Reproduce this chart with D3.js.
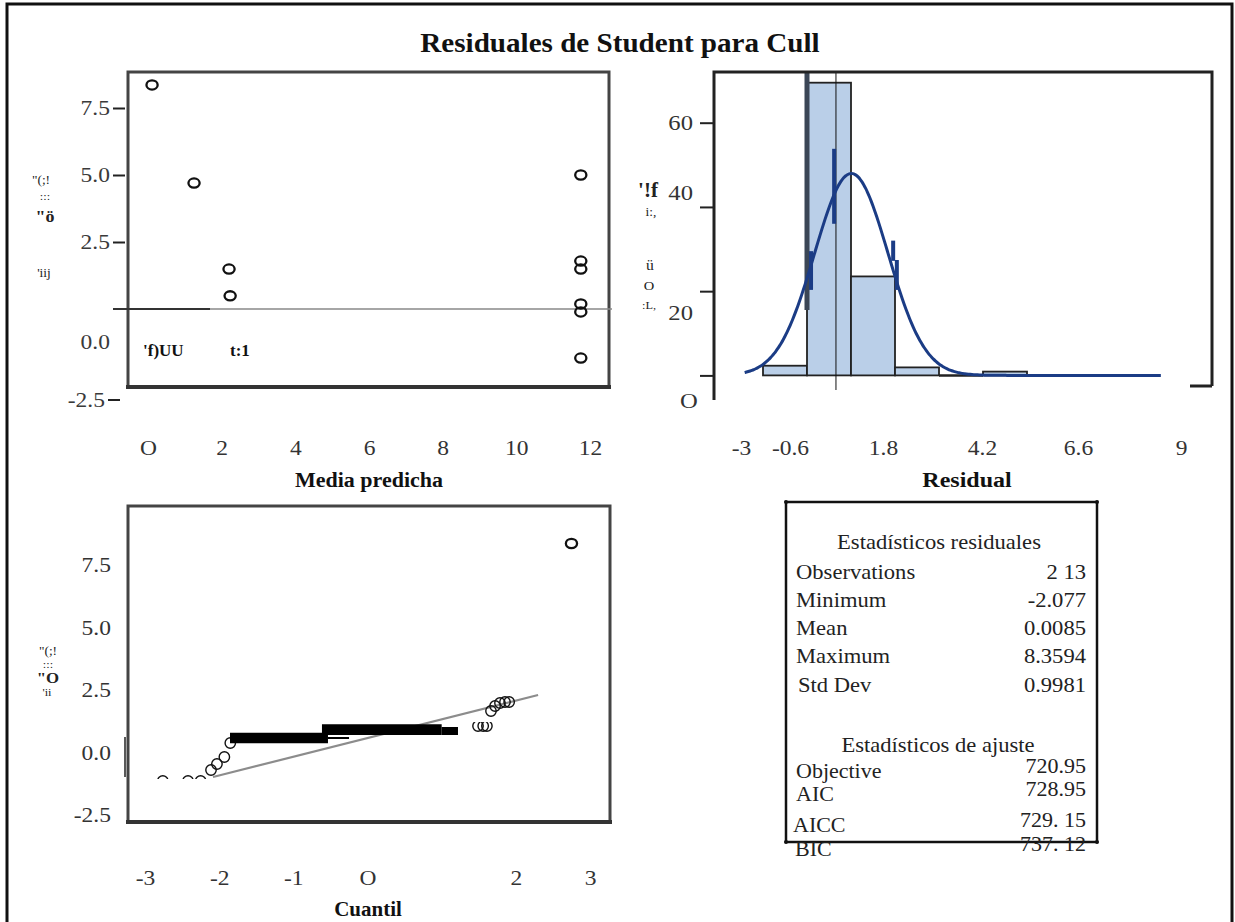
<!DOCTYPE html>
<html>
<head>
<meta charset="utf-8">
<script src="https://cdn.jsdelivr.net/npm/d3@7"></script>
<style>
  body { margin: 0; background: #fff; }
  svg text { font-family: "Liberation Serif", "Times New Roman", serif; }
</style>
</head>
<body>
<svg id="chart" width="1235" height="922"></svg>
<script>
// ---------------- data ----------------
const chartTitle = "Residuales de Student para Cull";

// Residuals vs predicted mean
const predMean  = [0.11, 1.25, 2.2, 2.23, 11.75, 11.75, 11.75, 11.75, 11.75, 11.75];
const predResid = [8.3594, 4.70, 1.49, 0.49, 5.0, 1.79, 1.49, 0.19, -0.11, -1.83];
const residTicks = [7.5, 5.0, 2.5, 0.0, -2.5];
const predTicks  = [0, 2, 4, 6, 8, 10, 12];

// Histogram of residuals (percent per bin)
const binEdges   = [-2.4, -1.2, 0, 1.2, 2.4, 3.6, 4.8, 6.0, 7.2, 8.4];
const binPercent = [2.3, 69.5, 23.5, 1.9, 0, 0.9, 0, 0, 0];
const histXTicks = [-3, -0.6, 1.8, 4.2, 6.6, 9];
const histYTicks = [60, 40, 20, 0];
const medianLine = -0.41;
// short stroke fragments drawn over the density curve: [x, y0, y1]
const curveStrokes = [[-0.46, 36.0, 53.8], [-1.09, 20.3, 29.5], [1.15, 27.2, 32.0], [1.25, 20.3, 27.4]];

// Q-Q plot
const qqQuant = [-2.76, -2.42, -2.25, -2.11, -2.03, -1.93, -1.85,
                 1.665, 1.72, 1.786, 1.854, 1.91];
const qqResid = [-1.14, -1.14, -1.14, -0.70, -0.46, -0.18, 0.38,
                 1.66, 1.86, 1.98, 2.02, 2.02];
const qqCutQuant = [1.49, 1.56, 1.61];
const qqCutResid = [1.06, 1.06, 1.06];
const qqOutlier = [2.75, 8.3594];
// dense runs of overlapping points: [q0, q1, v0, v1]
const qqRuns = [[-1.854, -0.533, 0.37, 0.79], [-0.533, -0.249, 0.54, 0.62],
                [-0.614, 1.0, 0.70, 1.13], [1.0, 1.22, 0.70, 1.02]];
const qqLineQ = [-2.083, 2.30];
const qqLineIntercept = 0.578, qqLineSlope = 0.748;
const qqXTicks = [-3, -2, -1, 0, 2, 3];

// Summary tables
const residStatNames  = ["Observations", "Minimum", "Mean", "Maximum", "Std Dev"];
const residStatValues = ["2 13", "-2.077", "0.0085", "8.3594", "0.9981"];
const fitStatNames  = ["Objective", "AIC", "AICC", "BIC"];
const fitStatValues = ["720.95", "728.95", "729. 15", "737. 12"];
const statMean = 0.0085, statSd = 0.9981;

// ---------------- drawing ----------------
const svg = d3.select("#chart");
const fmt = d => d === 0 ? "O" : String(d);
const fmt1 = d => d.toFixed(1);
const SX = 1.12;   // horizontal stretch applied to the serif labels

// text placed at (x, y) and stretched horizontally
function label(parent, x, y, str, o = {}) {
  const sx = o.sx || SX;
  return parent.append("text")
    .attr("transform", `translate(${x},${y}) scale(${sx},1)`)
    .attr("text-anchor", o.anchor || "start")
    .attr("font-size", o.size || 21)
    .attr("font-weight", o.bold ? "bold" : "normal")
    .attr("font-family", o.family || null)
    .attr("fill", o.fill || "#222")
    .text(str);
}

function styleAxis(g, size, color) {
  g.select(".domain").remove();
  g.selectAll("text").attr("font-size", size).attr("fill", color)
    .attr("font-family", "Liberation Serif, serif");
  g.selectAll("line").attr("stroke", "#222").attr("stroke-width", 2);
}
// stretch tick labels about their anchor
function stretchTicks(g) {
  g.selectAll(".tick text").each(function () {
    const t = d3.select(this);
    const x = +t.attr("x") || 0, y = +t.attr("y") || 0;
    t.attr("x", 0).attr("y", 0).attr("transform", `translate(${x},${y}) scale(${SX},1)`);
  });
}
// open "o" marker used for the scatter points
function ringMarks(sel) {
  return sel.attr("rx", 5.6).attr("ry", 4.6)
    .attr("fill", "none").attr("stroke", "#111").attr("stroke-width", 2.3);
}

// outer frame
svg.append("path").attr("d", "M7,922V4H1232V922")
  .attr("fill", "none").attr("stroke", "#111").attr("stroke-width", 3);

label(svg, 620, 52, chartTitle, {anchor: "middle", size: 28, bold: true, fill: "#111", sx: 1.04});

// ---- panel 1: residual vs predicted mean ----
const x1 = d3.scaleLinear().domain([0, 12]).range([148, 590]);
const y1 = d3.scaleLinear().domain([0, 7.5]).range([309, 108]);

const p1 = svg.append("g");
p1.append("path").attr("d", "M128,387V72H609V387").attr("fill", "none")
  .attr("stroke", "#444").attr("stroke-width", 3);
p1.append("line").attr("x1", 126).attr("x2", 611).attr("y1", 387).attr("y2", 387)
  .attr("stroke", "#333").attr("stroke-width", 4);
p1.append("line").attr("x1", 113).attr("x2", 210).attr("y1", y1(0)).attr("y2", y1(0))
  .attr("stroke", "#333").attr("stroke-width", 2);
p1.append("line").attr("x1", 210).attr("x2", 612).attr("y1", y1(0)).attr("y2", y1(0))
  .attr("stroke", "#888").attr("stroke-width", 1.5);

const ax1 = p1.append("g").attr("transform", "translate(125,0)")
  .call(d3.axisLeft(y1).tickValues(residTicks).tickSize(12).tickPadding(3).tickFormat(fmt1));
styleAxis(ax1, 21, "#3a3a3a");
ax1.selectAll(".tick").filter(d => d === 0).select("line").remove();
ax1.selectAll(".tick").filter(d => d === 0).select("text").attr("dy", "1.9em");
ax1.selectAll(".tick").filter(d => d === -2.5).attr("transform", `translate(-5,${y1(-2.5) + 24})`);
stretchTicks(ax1);

const bx1 = p1.append("g").attr("transform", "translate(0,440)")
  .call(d3.axisBottom(x1).tickValues(predTicks).tickSize(0).tickPadding(0).tickFormat(fmt));
styleAxis(bx1, 21, "#333");
stretchTicks(bx1);

ringMarks(p1.selectAll(".pt").data(predMean).join("ellipse").attr("class", "pt")
  .attr("cx", d => x1(d)).attr("cy", (d, i) => y1(predResid[i])));

label(svg, 369, 487, "Media predicha", {anchor: "middle", size: 20, bold: true, fill: "#111", sx: 1.1});

label(svg, 41, 184, '"(;!', {anchor: "middle", size: 12});
label(svg, 45, 200, ":::", {anchor: "middle", size: 11});
label(svg, 45, 222, '"ö', {anchor: "middle", size: 16, bold: true});
label(svg, 44, 277, "'iij", {anchor: "middle", size: 12});
label(svg, 143, 356, "'f)UU", {size: 17, bold: true, family: "DejaVu Sans, sans-serif", fill: "#111", sx: 1});
label(svg, 230, 356, "t:1", {size: 17, bold: true, fill: "#111", sx: 1});

// ---- panel 2: histogram ----
const x2 = d3.scaleLinear().domain([-3, 9]).range([741, 1181]);
const y2 = d3.scaleLinear().domain([0, 60]).range([375.4, 122.7]);
const p2 = svg.append("g");

const bins = binPercent.map((p, i) => ({x0: binEdges[i], x1: binEdges[i + 1], p}));
p2.selectAll(".bar").data(bins.filter(b => b.p > 0)).join("rect").attr("class", "bar")
  .attr("x", d => x2(d.x0)).attr("width", d => x2(d.x1) - x2(d.x0))
  .attr("y", d => y2(d.p)).attr("height", d => y2(0) - y2(d.p))
  .attr("fill", "#bacfe8").attr("stroke", "#222").attr("stroke-width", 1.8);
// empty bins keep their outline along the baseline
p2.selectAll(".empty").data(bins.filter((b, i) => b.p === 0 && i < 6)).join("line").attr("class", "empty")
  .attr("x1", d => x2(d.x0)).attr("x2", d => x2(d.x1)).attr("y1", y2(0)).attr("y2", y2(0))
  .attr("stroke", "#222").attr("stroke-width", 2.5);

// emphasised edge of the modal bin
p2.append("line").attr("x1", x2(binEdges[1])).attr("x2", x2(binEdges[1]))
  .attr("y1", 73).attr("y2", y2(15.5)).attr("stroke", "#3b4656").attr("stroke-width", 5);
p2.append("line").attr("x1", x2(medianLine)).attr("x2", x2(medianLine))
  .attr("y1", 72).attr("y2", 390).attr("stroke", "#111").attr("stroke-width", 1);

// normal density with the residual mean and standard deviation
const binW = binEdges[1] - binEdges[0];
const dens = d3.range(-2.9, 8.46, 0.05).map(v => [v,
  100 * binW * Math.exp(-0.5 * ((v - statMean) / statSd) ** 2) / (statSd * Math.sqrt(2 * Math.PI))]);
p2.append("path").datum(dens)
  .attr("d", d3.line().x(d => x2(d[0])).y(d => y2(d[1])).curve(d3.curveBasis))
  .attr("fill", "none").attr("stroke", "#1b3c85").attr("stroke-width", 3);
p2.selectAll(".frag").data(curveStrokes).join("line").attr("class", "frag")
  .attr("x1", d => x2(d[0])).attr("x2", d => x2(d[0]))
  .attr("y1", d => y2(d[1])).attr("y2", d => y2(d[2]))
  .attr("stroke", "#1b3c85").attr("stroke-width", 4);

p2.append("path").attr("d", "M714,400V72H1212V386M1190,386H1212").attr("fill", "none")
  .attr("stroke", "#222").attr("stroke-width", 3);

const ax2 = p2.append("g").attr("transform", "translate(714,0)")
  .call(d3.axisLeft(y2).tickValues(histYTicks).tickSize(14).tickPadding(8).tickFormat(fmt));
styleAxis(ax2, 22, "#333");
const yShift2 = {40: -14, 20: 21, 0: 25};
ax2.selectAll(".tick text").attr("dy", d => (0.32 + (yShift2[d] || 0) / 22) + "em")
  .attr("x", d => d === 0 ? -25 : -21).attr("text-anchor", d => d === 0 ? "middle" : "end");
stretchTicks(ax2);

const bx2 = p2.append("g").attr("transform", "translate(0,440)")
  .call(d3.axisBottom(x2).tickValues(histXTicks).tickSize(0).tickPadding(0).tickFormat(fmt));
styleAxis(bx2, 21, "#333");
const xShift2 = {"-0.6": -39, "1.8": -34, "4.2": -23, "6.6": -15};
bx2.selectAll(".tick text").attr("x", d => xShift2[String(d)] || 0);
stretchTicks(bx2);

label(svg, 967, 487, "Residual", {anchor: "middle", size: 20, bold: true, fill: "#111", sx: 1.2});

label(svg, 648, 197, "'!f", {anchor: "middle", size: 21, bold: true, sx: 1});
label(svg, 651, 216, "i:,", {anchor: "middle", size: 12});
label(svg, 650, 270, "ü", {anchor: "middle", size: 14});
label(svg, 649, 290, "O", {anchor: "middle", size: 13});
label(svg, 649, 309, ":L,", {anchor: "middle", size: 11});

// ---- panel 3: Q-Q plot ----
const x3 = d3.scaleLinear().domain([-3, 3]).range([145, 590]);
const y3 = d3.scaleLinear().domain([-2.5, 7.5]).range([815, 565]);
const p3 = svg.append("g");

const defs = svg.append("defs");
defs.append("clipPath").attr("id", "qqLow").append("rect")
  .attr("x", 128).attr("y", 506).attr("width", 482).attr("height", 273);
defs.append("clipPath").attr("id", "qqCut").append("rect")
  .attr("x", 128).attr("y", 722).attr("width", 482).attr("height", 100);

p3.append("line")
  .attr("x1", x3(qqLineQ[0])).attr("y1", y3(qqLineIntercept + qqLineSlope * qqLineQ[0]))
  .attr("x2", x3(qqLineQ[1])).attr("y2", y3(qqLineIntercept + qqLineSlope * qqLineQ[1]))
  .attr("stroke", "#8c8c8c").attr("stroke-width", 2.2);

p3.append("g").attr("clip-path", "url(#qqLow)")
  .selectAll("circle").data(qqQuant).join("circle")
  .attr("cx", d => x3(d)).attr("cy", (d, i) => y3(qqResid[i])).attr("r", 5.2)
  .attr("fill", "none").attr("stroke", "#111").attr("stroke-width", 1.4);
p3.append("g").attr("clip-path", "url(#qqCut)")
  .selectAll("circle").data(qqCutQuant).join("circle")
  .attr("cx", d => x3(d)).attr("cy", (d, i) => y3(qqCutResid[i])).attr("r", 5.2)
  .attr("fill", "none").attr("stroke", "#111").attr("stroke-width", 1.4);

p3.selectAll(".run").data(qqRuns).join("rect").attr("class", "run")
  .attr("x", d => x3(d[0])).attr("width", d => x3(d[1]) - x3(d[0]))
  .attr("y", d => y3(d[3])).attr("height", d => y3(d[2]) - y3(d[3])).attr("fill", "#000");

ringMarks(p3.append("ellipse").attr("cx", x3(qqOutlier[0])).attr("cy", y3(qqOutlier[1])));

p3.append("path").attr("d", "M128,822V506H610V822").attr("fill", "none")
  .attr("stroke", "#444").attr("stroke-width", 3);
p3.append("line").attr("x1", 126).attr("x2", 612).attr("y1", 822).attr("y2", 822)
  .attr("stroke", "#333").attr("stroke-width", 4);
p3.append("line").attr("x1", 125).attr("x2", 125).attr("y1", 737).attr("y2", 777)
  .attr("stroke", "#222").attr("stroke-width", 1.5);

const ax3 = p3.append("g").attr("transform", "translate(128,0)")
  .call(d3.axisLeft(y3).tickValues(residTicks).tickSize(0).tickPadding(17).tickFormat(fmt1));
styleAxis(ax3, 21, "#333");
stretchTicks(ax3);
const bx3 = p3.append("g").attr("transform", "translate(0,870)")
  .call(d3.axisBottom(x3).tickValues(qqXTicks).tickSize(0).tickPadding(0).tickFormat(fmt));
styleAxis(bx3, 21, "#333");
stretchTicks(bx3);

label(svg, 368, 916, "Cuantil", {anchor: "middle", size: 20, bold: true, fill: "#111", sx: 1.05});

label(svg, 48, 655, '"(;!', {anchor: "middle", size: 12});
label(svg, 48, 668, ":::", {anchor: "middle", size: 11});
label(svg, 48, 683, '"O', {anchor: "middle", size: 15, bold: true});
label(svg, 47, 696, "'ii", {anchor: "middle", size: 11});

// ---- summary tables ----
const tb = svg.append("g");
tb.append("rect").attr("x", 786).attr("y", 502).attr("width", 311).attr("height", 340)
  .attr("fill", "none").attr("stroke", "#111").attr("stroke-width", 2.5);
[[786, 502], [1097, 502], [786, 842], [1097, 842]].forEach(([cx, cy]) =>
  tb.append("circle").attr("cx", cx).attr("cy", cy).attr("r", 2).attr("fill", "#111"));

label(tb, 939, 549, "Estadísticos residuales", {anchor: "middle", size: 20, sx: 1.13});
const rY = [579, 607, 635, 663, 692];
residStatNames.forEach((n, i) => {
  label(tb, i === 4 ? 798 : 796, rY[i], n, {size: 20, sx: 1.13});
  label(tb, 1086, rY[i], residStatValues[i], {anchor: "end", size: 20, sx: 1.13});
});
label(tb, 938, 752, "Estadísticos de ajuste", {anchor: "middle", size: 20, sx: 1.13});
const fY = [778, 801, 832, 856];
const fX = [796, 796, 793, 795];
fitStatNames.forEach((n, i) => {
  label(tb, fX[i], fY[i], n, {size: 20, sx: 1.1});
  label(tb, 1086, fY[i] - 5, fitStatValues[i], {anchor: "end", size: 20, sx: 1.1});
});
</script>
</body>
</html>
